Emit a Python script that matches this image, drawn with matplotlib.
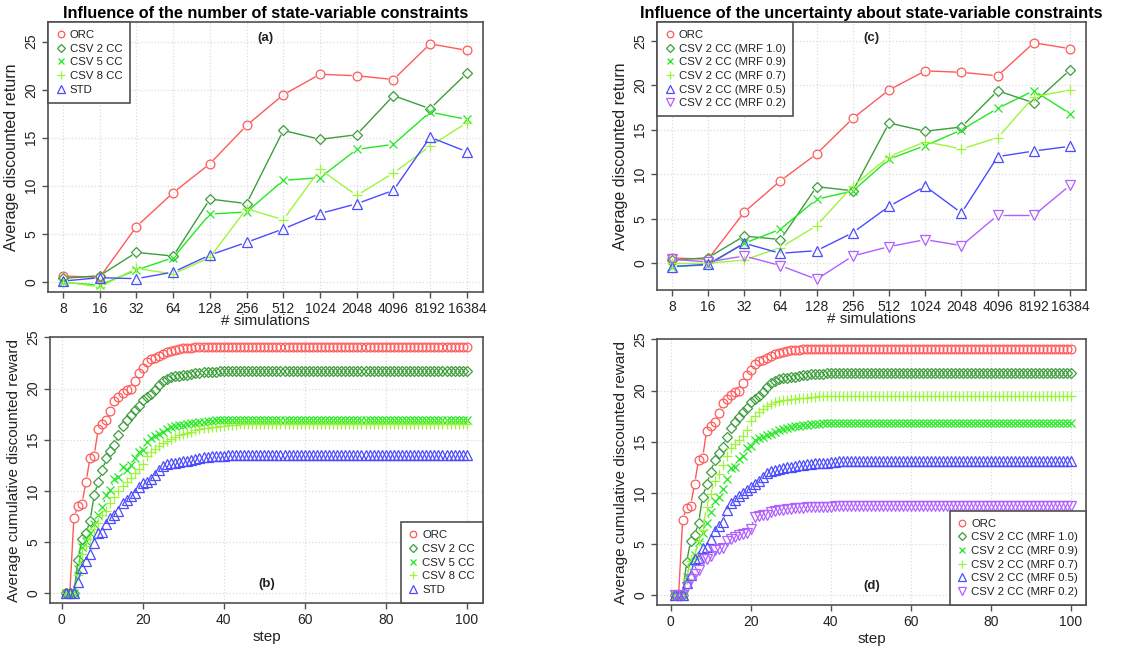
import numpy as np
import matplotlib
matplotlib.use("Agg")
import matplotlib.pyplot as plt
from matplotlib.lines import Line2D
from matplotlib.collections import LineCollection

plt.rcParams['font.family'] = ['Liberation Sans', 'DejaVu Sans']

# ---------------- data: top panels (average discounted return vs # simulations)
sim_labels = ["8", "16", "32", "64", "128", "256", "512", "1024", "2048", "4096", "8192", "16384"]

orc_ret = [0.6, 0.45, 5.75, 9.27, 12.29, 16.28, 19.47, 21.61, 21.45, 21.06, 24.77, 24.1]
csv2_ret = [0.35, 0.63, 3.06, 2.67, 8.61, 8.14, 15.76, 14.83, 15.31, 19.38, 18.02, 21.72]
csv5_ret = [-0.07, -0.35, 1.22, 2.5, 7.05, 7.26, 10.56, 10.83, 13.78, 14.31, 17.67, 16.9]
csv8_ret = [0.0, -0.55, 1.39, 0.8, 2.53, 7.6, 6.46, 11.7, 8.99, 11.32, 14.13, 16.56]
std_ret = [0.07, 0.42, 0.32, 1.0, 2.78, 4.1, 5.5, 7.1, 8.12, 9.52, 15.05, 13.54]

mrf09_ret = [-0.37, -0.19, 2.25, 3.82, 7.19, 8.12, 11.71, 13.21, 14.97, 17.4, 19.39, 16.8]
mrf07_ret = [0.0, 0.0, 0.37, 1.76, 4.23, 8.68, 11.98, 13.66, 12.84, 14.11, 18.71, 19.46]
mrf05_ret = [-0.37, -0.11, 2.25, 1.12, 1.42, 3.44, 6.4, 8.65, 5.65, 11.98, 12.61, 13.14]
mrf02_ret = [0.45, 0.15, 0.82, -0.26, -1.8, 0.82, 1.87, 2.66, 1.98, 5.39, 5.39, 8.76]

# ---------------- data: bottom panels (cumulative discounted reward per step)
n_steps = 100
orc_early = [0, 0, 7.39, 8.56, 8.76, 10.9, 13.25, 13.45, 16.05, 16.5, 16.95, 17.85, 18.8, 19.2,
             19.55, 19.85, 19.95, 20.7, 21.55, 22.0, 22.6, 22.85, 23.0, 23.2, 23.4, 23.55, 23.7,
             23.75, 23.85, 23.95, 24.0, 24.0, 24.05, 24.05, 24.05, 24.05, 24.05, 24.05]
orc_plateau = 24.1
csv2_early = [0, 0, 0, 3.25, 5.3, 5.86, 7.1, 9.6, 10.85, 12.0, 13.2, 13.9, 14.5, 15.5, 16.35,
              16.9, 17.4, 17.9, 18.3, 18.9, 19.2, 19.5, 19.9, 20.35, 20.7, 20.9, 21.15, 21.2,
              21.25, 21.3, 21.35, 21.45, 21.5, 21.55, 21.6, 21.6, 21.65, 21.65, 21.7]
csv2_plateau = 21.72
csv5_early = [0, 0, 0, 2.4, 4.5, 5.15, 5.85, 6.75, 7.6, 8.45, 9.6, 10.1, 11.15, 11.4, 12.3, 12.05,
              12.5, 13.25, 13.75, 14.0, 14.8, 15.15, 15.35, 15.55, 15.8, 16.0, 16.2, 16.3, 16.4,
              16.45, 16.5, 16.6, 16.65, 16.7, 16.75, 16.8, 16.85, 16.9]
csv5_plateau = 16.9
csv8_early = [0, 0, 0, 1.8, 3.8, 4.6, 5.3, 6.3, 6.9, 7.6, 8.0, 8.8, 9.4, 10.0, 10.5, 10.9, 11.3,
              11.7, 12.1, 12.6, 13.4, 13.8, 14.1, 14.4, 14.7, 14.9, 15.1, 15.3, 15.45, 15.6, 15.7,
              15.8, 15.9, 16.0, 16.1, 16.15, 16.2, 16.25, 16.3, 16.35, 16.4, 16.45, 16.45, 16.5]
csv8_plateau = 16.55
std_early = [0, 0, 0, 1.07, 2.5, 3.2, 3.85, 4.9, 5.9, 6.0, 6.75, 7.4, 7.65, 8.0, 8.8, 9.1, 9.5,
             9.75, 10.4, 10.8, 10.9, 11.2, 11.55, 12.0, 12.4, 12.6, 12.7, 12.75, 12.8, 12.9,
             12.95, 13.0, 13.1, 13.2, 13.3, 13.35, 13.4, 13.4, 13.45, 13.45]
std_plateau = 13.52

mrf09_early = [0, 0, 0, 1.8, 3.3, 3.9, 5.2, 6.1, 7.1, 8.1, 9.2, 9.6, 10.4, 11.4, 12.4, 12.5, 13.3,
               13.6, 14.4, 14.6, 15.2, 15.4, 15.5, 15.65, 15.8, 15.95, 16.1, 16.2, 16.3, 16.45,
               16.5, 16.55, 16.6, 16.65, 16.7, 16.7, 16.75]
mrf09_plateau = 16.8
mrf07_early = [0, 0, 0, 1.6, 3.3, 3.9, 5.3, 6.4, 8.6, 9.9, 11.2, 11.8, 12.7, 13.6, 14.4, 14.8,
               15.2, 15.6, 16.1, 17.0, 17.5, 17.9, 18.2, 18.5, 18.7, 18.85, 18.95, 19.05, 19.1,
               19.15, 19.2, 19.25, 19.3, 19.3, 19.35, 19.4]
mrf07_plateau = 19.45
mrf05_early = [0, 0, 0, 1.2, 2.0, 3.5, 3.6, 4.6, 4.7, 5.5, 6.25, 6.8, 7.2, 8.35, 9.0, 9.3, 9.65,
               10.0, 10.3, 10.6, 10.9, 11.2, 11.6, 11.9, 12.1, 12.2, 12.3, 12.4, 12.5, 12.55,
               12.6, 12.7, 12.75, 12.8, 12.85, 12.9, 12.9, 12.95, 12.95, 13.0, 13.05]
mrf05_plateau = 13.1
mrf02_early = [0, 0, 0, 0.8, 1.6, 2.1, 2.5, 3.5, 3.5, 3.8, 4.4, 4.5, 4.6, 5.3, 5.5, 5.7, 5.9, 6.0,
               6.1, 6.5, 7.6, 7.7, 7.8, 7.8, 8.1, 8.2, 8.3, 8.3, 8.4, 8.45, 8.5, 8.5, 8.55, 8.6,
               8.6, 8.6, 8.65, 8.65, 8.65, 8.65, 8.7]
mrf02_plateau = 8.75

C_ORC = '#ff5a5a'
C_CSV2 = '#3c9e3c'
C_CSV5 = '#22e822'
C_CSV8 = '#9df53a'
C_STD = '#4b4bff'
C_MRF02 = '#b060ff'
EDGE = '#505050'
TXT = '#222222'


def full_curve(early, plateau):
    return list(early) + [plateau] * (n_steps - len(early))


def gapped_line(ax, x, y, color, gap=5.0, lw=1.0):
    # R type="b": segments between points, leaving a gap around each marker
    pts = ax.transData.transform(np.column_stack([x, y]))
    inv = ax.transData.inverted()
    segs = []
    for p0, p1 in zip(pts[:-1], pts[1:]):
        d = p1 - p0
        L = np.hypot(d[0], d[1])
        if L <= 2 * gap + 0.5:
            continue
        u = d / L
        segs.append(inv.transform(np.array([p0 + u * gap, p1 - u * gap])))
    ax.add_collection(LineCollection(segs, colors=color, linewidths=lw))


def series(ax, x, y, color, marker, ms):
    gapped_line(ax, x, y, color)
    ax.plot(x, y, linestyle='none', marker=marker, markersize=ms, markerfacecolor='none',
            markeredgecolor=color, markeredgewidth=0.9)


def style_axes(ax, xlim, ylim):
    ax.set_xlim(*xlim)
    ax.set_ylim(*ylim)
    for s in ax.spines.values():
        s.set_color(EDGE)
        s.set_linewidth(1.2)
    ax.tick_params(colors=EDGE, labelcolor=TXT, labelsize=10, length=4, width=1)
    ax.tick_params(axis='x', pad=3)
    ax.tick_params(axis='y', pad=3)
    ax.set_yticks([0, 5, 10, 15, 20, 25])
    for lab in ax.get_yticklabels():
        lab.set_rotation(90)
        lab.set_va('center')
    ax.grid(True, color='#dcdcdc', linestyle=':', linewidth=0.9)
    ax.set_axisbelow(True)


def add_legend(ax, entries, loc):
    handles = [Line2D([], [], linestyle='none', marker=m, markersize=ms * 0.75, markerfacecolor='none',
                      markeredgecolor=c, markeredgewidth=0.9) for c, m, ms, _ in entries]
    labels = [e[3] for e in entries]
    leg = ax.legend(handles, labels, loc=loc, borderaxespad=0, fancybox=False, framealpha=1,
                    edgecolor=EDGE, fontsize=8.2, handletextpad=0.4, handlelength=0.8,
                    labelspacing=0.32, borderpad=0.7)
    leg.get_frame().set_linewidth(1.2)
    for t in leg.get_texts():
        t.set_color(TXT)


W, H = 1146, 649
fig = plt.figure(figsize=(W / 100, H / 100), dpi=100)


def px_axes(l, t, r, b):
    return fig.add_axes([l / W, 1 - b / H, (r - l) / W, (b - t) / H])


ax_a = px_axes(48, 22, 483, 292)
ax_c = px_axes(657, 22, 1086, 290)
ax_b = px_axes(50, 337, 483, 603)
ax_d = px_axes(657, 339, 1086, 605)

cat_x = np.arange(1, len(sim_labels) + 1)
steps = np.arange(1, n_steps + 1)

top_a = [(C_ORC, 'o', 6.3, 'ORC', orc_ret),
         (C_CSV2, 'D', 5.6, 'CSV 2 CC', csv2_ret),
         (C_CSV5, 'x', 6.0, 'CSV 5 CC', csv5_ret),
         (C_CSV8, '+', 7.5, 'CSV 8 CC', csv8_ret),
         (C_STD, '^', 6.8, 'STD', std_ret)]
top_c = [(C_ORC, 'o', 6.3, 'ORC', orc_ret),
         (C_CSV2, 'D', 5.6, 'CSV 2 CC (MRF 1.0)', csv2_ret),
         (C_CSV5, 'x', 6.0, 'CSV 2 CC (MRF 0.9)', mrf09_ret),
         (C_CSV8, '+', 7.5, 'CSV 2 CC (MRF 0.7)', mrf07_ret),
         (C_STD, '^', 6.8, 'CSV 2 CC (MRF 0.5)', mrf05_ret),
         (C_MRF02, 'v', 6.8, 'CSV 2 CC (MRF 0.2)', mrf02_ret)]
bot_b = [(C_ORC, 'o', 6.3, 'ORC', full_curve(orc_early, orc_plateau)),
         (C_CSV2, 'D', 5.6, 'CSV 2 CC', full_curve(csv2_early, csv2_plateau)),
         (C_CSV5, 'x', 6.0, 'CSV 5 CC', full_curve(csv5_early, csv5_plateau)),
         (C_CSV8, '+', 7.5, 'CSV 8 CC', full_curve(csv8_early, csv8_plateau)),
         (C_STD, '^', 6.8, 'STD', full_curve(std_early, std_plateau))]
bot_d = [(C_ORC, 'o', 6.3, 'ORC', full_curve(orc_early, orc_plateau)),
         (C_CSV2, 'D', 5.6, 'CSV 2 CC (MRF 1.0)', full_curve(csv2_early, csv2_plateau)),
         (C_CSV5, 'x', 6.0, 'CSV 2 CC (MRF 0.9)', full_curve(mrf09_early, mrf09_plateau)),
         (C_CSV8, '+', 7.5, 'CSV 2 CC (MRF 0.7)', full_curve(mrf07_early, mrf07_plateau)),
         (C_STD, '^', 6.8, 'CSV 2 CC (MRF 0.5)', full_curve(mrf05_early, mrf05_plateau)),
         (C_MRF02, 'v', 6.8, 'CSV 2 CC (MRF 0.2)', full_curve(mrf02_early, mrf02_plateau))]

# top panels
for ax, sets, ylim, title, tag in [
        (ax_a, top_a, (-1.07, 27.05), 'Influence of the number of state-variable constraints', '(a)'),
        (ax_c, top_c, (-3.0, 27.1), 'Influence of the uncertainty about state-variable constraints', '(c)')]:
    style_axes(ax, (0.59, 12.44), ylim)
    ax.set_xticks(cat_x)
    ax.set_xticklabels(sim_labels)
    for c, m, ms, lab, vals in sets:
        series(ax, cat_x, vals, c, m, ms)
    ax.set_xlabel('# simulations', fontsize=11, labelpad=-1, color=TXT)
    ax.set_ylabel('Average discounted return', fontsize=11.5, labelpad=4, color=TXT)
    ax.set_title(title, fontsize=11.7, fontweight='bold', pad=3)
    ax.text(0.5, 0.94, tag, transform=ax.transAxes, ha='center', va='center',
            fontsize=9.5, fontweight='bold', color=TXT)
    add_legend(ax, [s[:4] for s in sets], 'upper left')

# bottom panels
for ax, sets, xlim, tag in [(ax_b, bot_b, (-2.9, 104.0), '(b)'),
                            (ax_d, bot_d, (-3.4, 103.8), '(d)')]:
    style_axes(ax, xlim, (-0.95, 25.03))
    ax.set_xticks([0, 20, 40, 60, 80, 100])
    for c, m, ms, lab, vals in sets:
        series(ax, steps, vals, c, m, ms)
    ax.set_xlabel('step', fontsize=11, labelpad=2, color=TXT)
    ax.set_ylabel('Average cumulative discounted reward', fontsize=11, labelpad=4, color=TXT)
    ax.text(0.5, 0.07, tag, transform=ax.transAxes, ha='center', va='center',
            fontsize=9.5, fontweight='bold', color=TXT)
    add_legend(ax, [s[:4] for s in sets], 'lower right')

fig.savefig('out.png', dpi=100)
